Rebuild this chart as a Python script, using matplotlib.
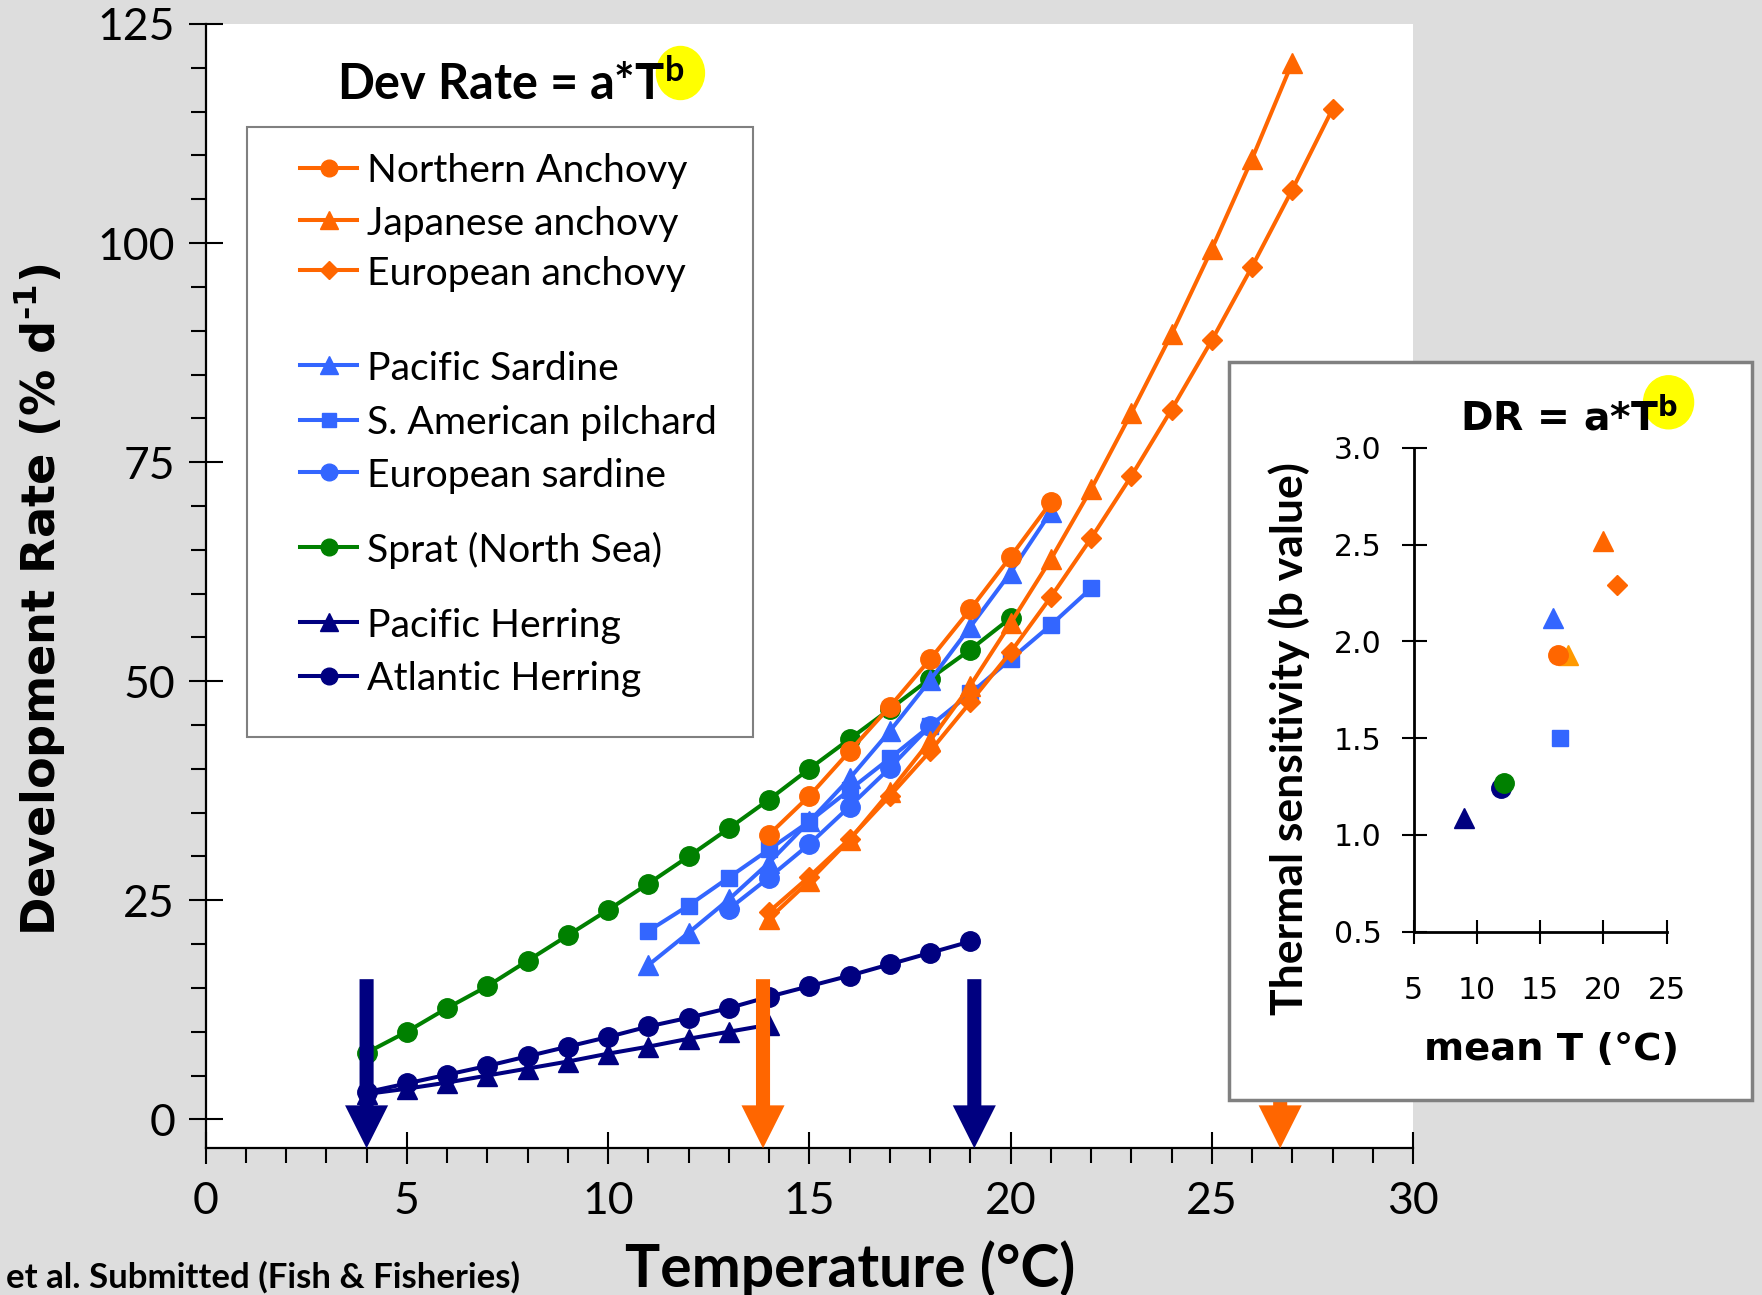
import matplotlib
matplotlib.use('Agg')
import matplotlib.pyplot as plt
from matplotlib import patches
from matplotlib.lines import Line2D
from matplotlib.ticker import MultipleLocator, FormatStrFormatter

plt.rcParams['font.family'] = ['Lato', 'DejaVu Sans']

# development rate (% per day) against incubation temperature (deg C)
temp_n_anchovy = list(range(14, 22))
rate_n_anchovy = [32.5, 36.9, 42.0, 47.1, 52.5, 58.2, 64.2, 70.4]

temp_j_anchovy = list(range(14, 28))
rate_j_anchovy = [22.9, 27.2, 31.9, 37.4, 43.2, 49.5, 56.6, 63.9, 71.9, 80.6,
                  89.6, 99.3, 109.6, 120.6]

temp_e_anchovy = list(range(14, 29))
rate_e_anchovy = [23.7, 27.7, 32.0, 36.9, 42.0, 47.6, 53.3, 59.6, 66.3, 73.4,
                  81.0, 88.9, 97.3, 106.1, 115.3]

temp_p_sardine = list(range(11, 22))
rate_p_sardine = [17.6, 21.3, 25.1, 29.3, 34.0, 38.9, 44.3, 50.1, 56.2, 62.4, 69.3]

temp_sa_pilchard = list(range(11, 23))
rate_sa_pilchard = [21.5, 24.4, 27.6, 30.8, 34.0, 37.6, 41.2, 44.9, 48.6, 52.5,
                    56.4, 60.6]

temp_e_sardine = list(range(13, 19))
rate_e_sardine = [24.0, 27.6, 31.4, 35.7, 40.1, 44.9]

temp_sprat = list(range(4, 21))
rate_sprat = [7.6, 10.0, 12.7, 15.2, 18.1, 21.0, 23.9, 26.9, 30.0, 33.2, 36.5,
              40.0, 43.4, 46.8, 50.3, 53.6, 57.2]

temp_p_herring = list(range(4, 15))
rate_p_herring = [2.9, 3.5, 4.2, 5.0, 5.8, 6.6, 7.5, 8.3, 9.2, 10.0, 10.8]

temp_a_herring = list(range(4, 20))
rate_a_herring = [3.1, 4.1, 5.1, 6.1, 7.2, 8.3, 9.4, 10.6, 11.6, 12.7, 14.0,
                  15.2, 16.4, 17.7, 19.0, 20.3]

# thermal window limits marked with arrows
arrow_temps = [4.0, 13.85, 19.1, 26.7]

# fitted exponent b against mean temperature of each data set
mean_temp = [9.0, 11.9, 12.15, 16.0, 16.55, 17.2, 16.45, 19.95, 21.05]
b_value = [1.09, 1.24, 1.27, 2.12, 1.50, 1.93, 1.93, 2.52, 2.29]

legend_labels = ['Northern Anchovy', 'Japanese anchovy', 'European anchovy',
                 'Pacific Sardine', 'S. American pilchard', 'European sardine',
                 'Sprat (North Sea)', 'Pacific Herring', 'Atlantic Herring']

ORANGE = '#ff6600'
LIGHT_ORANGE = '#ff9900'
BLUE = '#3366ff'
GREEN = '#008000'
NAVY = '#000080'
GREY = '#808080'
YELLOW = '#ffff00'

W, H = 1762, 1295


def fx(p):
    return p / W


def fy(p):
    return 1 - p / H


fig = plt.figure(figsize=(W / 100, H / 100), dpi=100, facecolor='#dddddd')
renderer = fig.canvas.get_renderer()


def highlight_exponent(txt, dx, dy, w, h):
    # yellow blob behind the superscript b, placed from the text's extent (pixels)
    bb = txt.get_window_extent(renderer=renderer)
    cx, cy = bb.x1 + dx, bb.y1 + dy
    fig.add_artist(patches.Ellipse((cx / W, cy / H), w / W, h / H,
                                   transform=fig.transFigure, color=YELLOW,
                                   zorder=txt.get_zorder() - 0.5))


ax = fig.add_axes([fx(205.6), fy(1148.3), fx(1413) - fx(205.6), fy(24) - fy(1148.3)])
ax.set_facecolor('white')

series = [
    (temp_sprat, rate_sprat, GREEN, 'o', 14),
    (temp_sa_pilchard, rate_sa_pilchard, BLUE, 's', 12),
    (temp_e_sardine, rate_e_sardine, BLUE, 'o', 14),
    (temp_p_sardine, rate_p_sardine, BLUE, '^', 15),
    (temp_n_anchovy, rate_n_anchovy, ORANGE, 'o', 14),
    (temp_j_anchovy, rate_j_anchovy, ORANGE, '^', 15),
    (temp_e_anchovy, rate_e_anchovy, ORANGE, 'D', 10.5),
    (temp_p_herring, rate_p_herring, NAVY, '^', 15),
    (temp_a_herring, rate_a_herring, NAVY, 'o', 14),
]
for t, r, c, m, s in series:
    ax.plot(t, r, color=c, marker=m, ms=s, mec=c, lw=2.9, zorder=3)

ymin = -3.3
arrow_cols = [NAVY, ORANGE, NAVY, ORANGE]
for t, c in zip(arrow_temps, arrow_cols):
    ax.arrow(t, 16, 0, ymin - 16, width=0.35, head_width=1.07, head_length=4.9,
             length_includes_head=True, fc=c, ec='none', zorder=5, clip_on=False)

ax.set_xlim(0, 30)
ax.set_ylim(ymin, 125)
ax.spines['top'].set_visible(False)
ax.spines['right'].set_visible(False)
for s in ['left', 'bottom']:
    ax.spines[s].set_linewidth(1.6)
ax.set_xticks(range(0, 31, 5))
ax.set_yticks(range(0, 126, 25))
ax.xaxis.set_minor_locator(MultipleLocator(1))
ax.yaxis.set_minor_locator(MultipleLocator(5))
ax.tick_params(axis='x', which='major', direction='inout', length=23, width=1.5,
               labelsize=32, pad=12)
ax.tick_params(axis='y', which='major', direction='inout', length=24, width=1.5,
               labelsize=32, pad=10)
ax.tick_params(which='minor', direction='out', length=10.5, width=1.5)

# legend box drawn by hand to keep the grouped spacing
fig.add_artist(patches.Rectangle((fx(247.4), fy(737)), fx(752.9) - fx(247.4),
                                 fy(127.3) - fy(737), transform=fig.transFigure,
                                 facecolor='white', edgecolor=GREY, lw=1.5, zorder=1))
leg_y = [167.6, 220, 270.4, 365.3, 419.8, 472, 547.2, 622.3, 675.7]
leg_style = [(ORANGE, 'o', 12), (ORANGE, '^', 13), (ORANGE, 'D', 9.5),
             (BLUE, '^', 13), (BLUE, 's', 10.5), (BLUE, 'o', 12),
             (GREEN, 'o', 12), (NAVY, '^', 13), (NAVY, 'o', 12)]
for lab, yy, (c, m, s) in zip(legend_labels, leg_y, leg_style):
    fig.add_artist(Line2D([fx(300), fx(357)], [fy(yy), fy(yy)], color=c, lw=2.9,
                          transform=fig.transFigure, zorder=2))
    fig.add_artist(Line2D([fx(328.5)], [fy(yy)], color=c, marker=m, ms=s, mec=c,
                          transform=fig.transFigure, zorder=2))
    fig.text(fx(367), fy(yy), lab, fontsize=28.2, va='center_baseline', ha='left', zorder=3)

# equation heading with highlighted exponent
title = fig.text(fx(337), fy(100), r'Dev Rate = a*T$^{\mathregular{b}}$', fontsize=35,
                 fontweight='bold', ha='left', va='baseline', zorder=3)
highlight_exponent(title, -4, -14, 48, 53)

fig.text(fx(40), fy(599.5), r'Development Rate (% d$^{\mathregular{' + '\u2010' + '1}}$)',
         rotation=90, family='DejaVu Sans', fontweight='bold', fontsize=33.3,
         ha='center', va='center')
fig.text(fx(850), fy(1287), 'Temperature (°C)', fontsize=42.3, fontweight='bold',
         ha='center', va='baseline')
fig.text(fx(6), fy(1288), 'et al. Submitted (Fish & Fisheries)', fontsize=25,
         fontweight='bold', ha='left', va='baseline')

# inset: exponent b against mean temperature
fig.add_artist(patches.Rectangle((fx(1228.6), fy(1100)), fx(1752.3) - fx(1228.6),
                                 fy(362) - fy(1100), transform=fig.transFigure,
                                 facecolor='white', edgecolor=GREY, lw=2.5, zorder=1))
ax2 = fig.add_axes([fx(1413.6), fy(931.7), fx(1666.6) - fx(1413.6), fy(447.9) - fy(931.7)],
                   zorder=2)
ax2.patch.set_alpha(0)
inset_style = [(NAVY, '^', 15), (NAVY, 'o', 14), (GREEN, 'o', 14), (BLUE, '^', 15),
               (BLUE, 's', 11.7), (LIGHT_ORANGE, '^', 15), (ORANGE, 'o', 14),
               (ORANGE, '^', 15), (ORANGE, 'D', 10.5)]
for t, b, (c, m, s) in zip(mean_temp, b_value, inset_style):
    ax2.plot([t], [b], ls='none', marker=m, ms=s, color=c, mec=c)
ax2.set_xlim(5, 25)
ax2.set_ylim(0.5, 3.0)
ax2.spines['top'].set_visible(False)
ax2.spines['right'].set_visible(False)
for s in ['left', 'bottom']:
    ax2.spines[s].set_linewidth(2)
ax2.set_xticks(range(5, 26, 5))
ax2.set_yticks([0.5, 1.0, 1.5, 2.0, 2.5, 3.0])
ax2.yaxis.set_major_formatter(FormatStrFormatter('%.1f'))
ax2.tick_params(axis='x', direction='inout', length=17.5, width=1.5, pad=23)
ax2.tick_params(axis='y', direction='inout', length=18, width=1.5, pad=14)
for lab in ax2.get_xticklabels() + ax2.get_yticklabels():
    lab.set_family('DejaVu Sans')
    lab.set_fontsize(21.5)

dr = fig.text(fx(1460), fy(430), r'DR = a*T$^{\mathregular{b}}$', family='DejaVu Sans',
              fontweight='bold', fontsize=28.3, ha='left', va='baseline', zorder=4)
highlight_exponent(dr, -9, -6, 50, 53)
fig.text(fx(1551), fy(1060), 'mean T (°C)', family='DejaVu Sans', fontweight='bold',
         fontsize=27.7, ha='center', va='baseline', zorder=4)
fig.text(fx(1289), fy(739), 'Thermal sensitivity (b value)', rotation=90, fontweight='bold',
         fontsize=32, ha='center', va='center', zorder=4)

fig.savefig('out.png', dpi=100, facecolor=fig.get_facecolor())
